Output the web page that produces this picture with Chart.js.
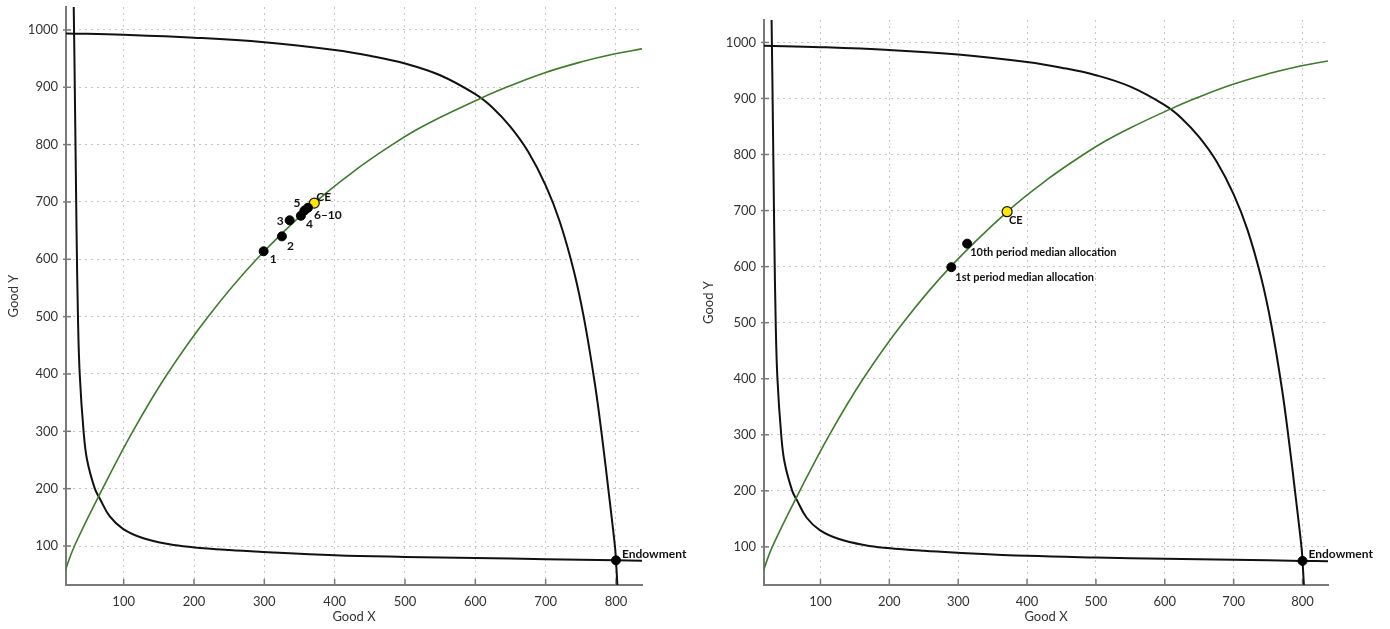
<!DOCTYPE html>
<html>
<head>
<meta charset="utf-8">
<script src="https://cdn.jsdelivr.net/npm/chart.js@4.4.0/dist/chart.umd.min.js"></script>
<style>
  body { margin: 0; background: #fff; width: 1390px; height: 629px; overflow: hidden; position: relative; }
  .box { position: absolute; top: 0; width: 695px; height: 629px; }
</style>
</head>
<body>
<div class="box" style="left:0"><canvas id="left" width="695" height="629"></canvas></div>
<div class="box" style="left:695px"><canvas id="right" width="695" height="629"></canvas></div>
<script>
// axis ranges and ticks
const xMin = 18, xMax = 837, yMin = 32, yMax = 1040;
const xTicks = [100, 200, 300, 400, 500, 600, 700, 800];
const yTicks = [100, 200, 300, 400, 500, 600, 700, 800, 900, 1000];

// indifference curve through the endowment (lower left)
const curveAX = [29, 30, 31, 32, 33, 35, 37.5, 43, 48, 59, 66, 80, 99, 127, 165, 198, 250, 293, 400, 500, 600, 700, 800, 837];
const curveAY = [1040, 950, 850, 750, 650, 500, 400, 300, 250, 200, 183, 152, 130, 114, 103, 98, 93, 90, 84, 81, 79, 77, 75, 74.5];

// other indifference curve (upper right)
const curveBX = [18, 100, 200, 300, 400, 450, 500, 550, 600, 625, 650, 675, 700, 720, 740, 755, 770, 780, 790, 798.5, 800, 802];
const curveBY = [994, 991.5, 986.5, 978.5, 965, 955, 941.5, 921, 888, 864, 831, 788, 729, 666, 580, 494, 383, 292, 190, 100, 75, 32];

// contract curve (green)
const contractX = [16, 30, 70, 113, 162, 220, 289, 373, 430, 482, 515, 549, 608, 644, 698, 750, 797, 837];
const contractY = [54, 100, 200, 300, 400, 500, 600, 700, 756, 800, 825, 847, 881, 900, 925, 944, 958, 967];

const endowX = 800, endowY = 75;
const ceX = 371, ceY = 698;

// left panel: period allocations
const leftNames = ['1', '2', '3', '4', '5', '6\u201310'];
const leftX = [299, 325, 336, 352, 357, 362];
const leftY = [614, 640, 668, 676, 685, 690];

// right panel: median allocations
const rightNames = ['1st period median allocation', '10th period median allocation'];
const rightX = [290, 313];
const rightY = [599, 641];

const toPts = (xs, ys) => xs.map((v, i) => ({x: v, y: ys[i]}));

const gridColor = '#c6c6c6';
const axisColor = '#7a7a7a';
const textColor = '#333';
const fontFam = 'Lato, "Open Sans", sans-serif';

const tickMarks = {
  id: 'tickMarks',
  beforeDatasetsDraw(chart) {
    const {ctx, chartArea: a, scales: {x, y}} = chart;
    ctx.save();
    ctx.strokeStyle = axisColor;
    ctx.lineWidth = 1.5;
    x.ticks.forEach(t => {
      const px = x.getPixelForValue(t.value);
      ctx.beginPath(); ctx.moveTo(px, a.bottom); ctx.lineTo(px, a.bottom - 6); ctx.stroke();
    });
    y.ticks.forEach(t => {
      const py = y.getPixelForValue(t.value);
      ctx.beginPath(); ctx.moveTo(a.left - 3, py); ctx.lineTo(a.left + 5, py); ctx.stroke();
    });
    ctx.restore();
  }
};

function labelPlugin(items) {
  return {
    id: 'pointText',
    afterDatasetsDraw(chart) {
      const {ctx, scales: {x, y}} = chart;
      ctx.save();
      ctx.fillStyle = '#111';
      ctx.textBaseline = 'middle';
      items.forEach(it => {
        ctx.font = 'bold ' + it.size + 'px ' + fontFam;
        ctx.textAlign = it.align || 'left';
        ctx.fillText(it.text, x.getPixelForValue(it.x) + it.dx, y.getPixelForValue(it.y) + it.dy);
      });
      ctx.restore();
    }
  };
}

function makeChart(id, pad, yWidth, dots, items) {
  const lineDs = (xs, ys, color, w) => ({
    type: 'line', data: toPts(xs, ys), borderColor: color, borderWidth: w,
    pointRadius: 0, fill: false, tension: 0.4, order: 2
  });
  return new Chart(document.getElementById(id), {
    type: 'scatter',
    data: {
      datasets: [
        {data: dots, pointRadius: 4.5, pointBackgroundColor: '#000', pointBorderColor: '#000', order: 0},
        {data: [{x: ceX, y: ceY}], pointRadius: 5, pointBackgroundColor: '#ffe800', pointBorderColor: '#111', pointBorderWidth: 1.2, order: 0},
        lineDs(contractX, contractY, '#3b7d28', 1.6),
        lineDs(curveAX, curveAY, '#111', 2),
        lineDs(curveBX, curveBY, '#111', 2)
      ]
    },
    options: {
      responsive: false,
      animation: false,
      layout: {padding: pad},
      plugins: {legend: {display: false}, tooltip: {enabled: false}},
      scales: {
        x: {
          type: 'linear', min: xMin, max: xMax,
          afterBuildTicks: s => { s.ticks = xTicks.map(v => ({value: v})); },
          afterFit: s => { s.height = 44; },
          grid: {color: gridColor, lineWidth: 1, drawTicks: false},
          border: {color: axisColor, width: 2, dash: [2, 4]},
          ticks: {padding: 9, color: textColor, font: {family: fontFam, size: 13}, callback: v => String(v)},
          title: {display: true, text: 'Good X', color: textColor, font: {family: fontFam, size: 13}, padding: {top: 0, bottom: 4}}
        },
        y: {
          type: 'linear', min: yMin, max: yMax,
          afterBuildTicks: s => { s.ticks = yTicks.map(v => ({value: v})); },
          afterFit: s => { s.width = yWidth; s.paddingTop = 0; s.paddingBottom = 0; },
          grid: {color: gridColor, lineWidth: 1, drawTicks: false},
          border: {color: axisColor, width: 2, dash: [2, 4]},
          ticks: {padding: 8, color: textColor, font: {family: fontFam, size: 13}, callback: v => String(v)},
          title: {display: true, text: 'Good Y', color: textColor, font: {family: fontFam, size: 13}, padding: {top: 6, bottom: 0}}
        }
      }
    },
    plugins: [tickMarks, labelPlugin(items)]
  });
}

// left panel
const leftOffsets = [[6, 8, 'left'], [5, 10, 'left'], [-6, 1, 'right'], [5, 8, 'left'], [-4, -7, 'right'], [6, 7, 'left']];
const leftItems = leftNames.map((t, i) => ({
  text: t, x: leftX[i], y: leftY[i], dx: leftOffsets[i][0], dy: leftOffsets[i][1], align: leftOffsets[i][2], size: 12
}));
leftItems.push({text: 'CE', x: ceX, y: ceY, dx: 2, dy: -6, size: 12});
leftItems.push({text: 'Endowment', x: endowX, y: endowY, dx: 6, dy: -6, size: 12});
makeChart('left', {left: 0, top: 7, right: 53, bottom: 0}, 66,
  toPts(leftX, leftY).concat([{x: endowX, y: endowY}]), leftItems);

// right panel
const rightOffsets = [[4, 10], [3, 9]];
const rightItems = rightNames.map((t, i) => ({
  text: t, x: rightX[i], y: rightY[i], dx: rightOffsets[i][0], dy: rightOffsets[i][1], size: 11
}));
rightItems.push({text: 'CE', x: ceX, y: ceY, dx: 2, dy: 9, size: 11});
rightItems.push({text: 'Endowment', x: endowX, y: endowY, dx: 6, dy: -7, size: 12});
makeChart('right', {left: 0, top: 20, right: 62, bottom: 0}, 69,
  toPts(rightX, rightY).concat([{x: endowX, y: endowY}]), rightItems);
</script>
</body>
</html>
